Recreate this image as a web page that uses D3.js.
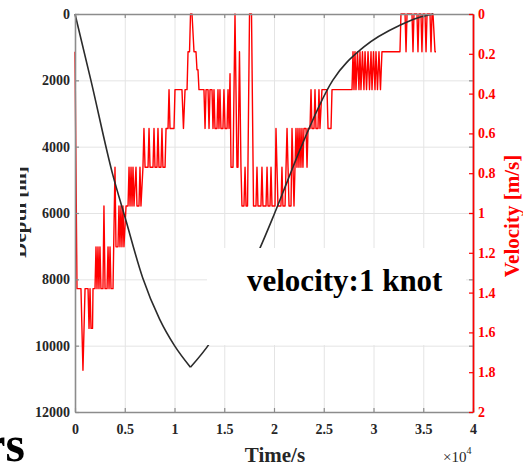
<!DOCTYPE html>
<html>
<head>
<meta charset="utf-8">
<script src="https://cdn.jsdelivr.net/npm/d3@7"></script>
<style>
  html, body { margin: 0; padding: 0; background: #fff; }
  svg { display: block; }
  text { font-family: "Liberation Serif", "Times New Roman", serif; }
</style>
</head>
<body>
<svg id="chart" width="523" height="466"></svg>
<script>
// ---------------- DATA ----------------
const timeTicks = [0, 0.5, 1, 1.5, 2, 2.5, 3, 3.5, 4];            // ×10^4 s
const timeTickLabels = ["0", "0.5", "1", "1.5", "2", "2.5", "3", "3.5", "4"];
const depthTicks = [0, 2000, 4000, 6000, 8000, 10000, 12000];
const velocityTicks = [0, 0.2, 0.4, 0.6, 0.8, 1, 1.2, 1.4, 1.6, 1.8, 2];
const velocityTickLabels = ["0", "0.2", "0.4", "0.6", "0.8", "1", "1.2", "1.4", "1.6", "1.8", "2"];

// depth profile (black): descent and ascent legs
const descentTime  = [0, 0.16, 0.38, 0.5, 0.68, 0.85, 1.0, 1.16];
const descentDepth = [0, 2000, 4850, 6100, 7950, 9200, 10000, 10650];
const ascentTime   = [1.16, 1.36, 1.6, 1.86, 1.98, 2.14, 2.26, 2.59, 2.9, 3.27, 3.45, 3.6];
const ascentDepth  = [10650, 9900, 8600, 7050, 6200, 5000, 4100, 2000, 1000, 330, 110, 0];

// velocity record (red): [time ×10^4 s, velocity m/s]
const velocitySamples = [
  [0,0.19],[0.020,1.38],[0.060,1.38],[0.080,1.79],[0.101,1.38],[0.131,1.38],[0.141,1.58],[0.151,1.38],
  [0.161,1.58],[0.176,1.58],[0.181,1.38],[0.201,1.38],[0.211,1.17],[0.221,1.38],[0.231,1.17],[0.241,1.38],
  [0.251,1.17],[0.261,1.38],[0.281,1.38],[0.291,0.965],[0.302,1.38],[0.322,1.38],[0.332,1.17],[0.342,1.38],
  [0.352,1.17],[0.362,1.38],[0.382,1.38],[0.402,0.77],[0.412,1.17],[0.432,1.17],[0.442,0.965],[0.452,1.17],
  [0.462,0.965],[0.472,1.17],[0.482,0.965],[0.492,1.17],[0.513,0.965],[0.533,0.965],[0.543,0.77],[0.553,0.965],
  [0.563,0.77],[0.573,0.965],[0.583,0.77],[0.593,0.965],[0.613,0.77],[0.623,0.965],[0.643,0.965],[0.653,0.77],
  [0.663,0.965],[0.683,0.77],[0.693,0.575],[0.704,0.77],[0.734,0.77],[0.744,0.575],[0.754,0.77],[0.784,0.77],
  [0.794,0.575],[0.804,0.77],[0.824,0.77],[0.834,0.575],[0.844,0.77],[0.864,0.77],[0.874,0.575],[0.884,0.77],
  [0.905,0.77],[0.915,0.575],[0.935,0.575],[0.945,0.38],[0.955,0.575],[0.995,0.575],[1.005,0.38],[1.075,0.38],
  [1.090,0.575],[1.106,0.38],[1.126,0.38],[1.136,0.19],[1.151,0.19],[1.161,0],[1.176,0],[1.196,0.19],
  [1.216,0.19],[1.226,0.28],[1.236,0.28],[1.246,0.38],[1.296,0.38],[1.307,0.575],[1.317,0.38],[1.337,0.38],
  [1.347,0.575],[1.357,0.38],[1.377,0.38],[1.387,0.575],[1.397,0.38],[1.407,0.575],[1.427,0.575],[1.437,0.38],
  [1.447,0.575],[1.457,0.38],[1.467,0.575],[1.487,0.575],[1.497,0.38],[1.508,0.575],[1.528,0.575],[1.538,0.38],
  [1.548,0.575],[1.558,0.30],[1.568,0.77],[1.588,0.77],[1.608,0],[1.628,0.77],[1.638,0.77],[1.653,0.19],
  [1.668,0.77],[1.678,0.965],[1.698,0.965],[1.709,0.77],[1.719,0.965],[1.734,0.965],[1.754,0],[1.774,0],
  [1.794,0.965],[1.819,0.965],[1.829,0.77],[1.839,0.965],[1.869,0.965],[1.879,0.77],[1.889,0.965],[1.920,0.965],
  [1.930,0.77],[1.940,0.965],[1.960,0.965],[1.970,0.77],[1.980,0.965],[2.010,0.965],[2.020,0.575],[2.030,0.77],
  [2.040,0.965],[2.070,0.965],[2.080,0.77],[2.090,0.965],[2.111,0.965],[2.121,0.77],[2.131,0.575],[2.141,0.77],
  [2.151,0.965],[2.171,0.965],[2.181,0.575],[2.191,0.77],[2.201,0.965],[2.221,0.575],[2.231,0.77],[2.241,0.575],
  [2.251,0.77],[2.261,0.575],[2.271,0.77],[2.281,0.575],[2.291,0.77],[2.301,0.575],[2.322,0.575],[2.332,0.77],
  [2.342,0.575],[2.362,0.575],[2.372,0.38],[2.382,0.575],[2.402,0.575],[2.412,0.38],[2.422,0.575],[2.442,0.575],
  [2.452,0.38],[2.462,0.575],[2.482,0.38],[2.533,0.38],[2.543,0.575],[2.573,0.575],[2.583,0.38],[2.784,0.38],
  [2.794,0.19],[2.804,0.38],[2.814,0.19],[2.824,0.38],[2.839,0.19],[2.854,0.38],[2.864,0.19],[2.874,0.38],
  [2.889,0.19],[2.904,0.38],[2.915,0.19],[2.930,0.38],[2.945,0.19],[2.960,0.38],[2.975,0.19],[2.985,0.38],
  [3.000,0.19],[3.015,0.38],[3.025,0.19],[3.040,0.38],[3.055,0.19],[3.070,0.38],[3.085,0.19],[3.266,0.19],
  [3.276,0],[3.317,0],[3.327,0.19],[3.337,0],[3.387,0],[3.397,0.19],[3.407,0],[3.437,0],
  [3.447,0.19],[3.457,0],[3.477,0],[3.487,0.19],[3.497,0],[3.518,0],[3.528,0.19],[3.538,0],
  [3.568,0],[3.578,0.19],[3.588,0],[3.598,0],[3.618,0.19],[3.628,0.19]
];

const annotationText = "velocity:1 knot";

// ---------------- LAYOUT ----------------
const svg = d3.select("#chart");
const L = 75, R = 473, T = 14, B = 412;

const x = d3.scaleLinear().domain([0, 4]).range([L, R]);
const yD = d3.scaleLinear().domain([0, 12000]).range([T, B]);
const yV = d3.scaleLinear().domain([0, 2]).range([T, B]);

const axisGray = "#8c8c8c";
const labelColor = "#262626";
const red = "#ff0000";

// gridlines
const gx = svg.append("g").attr("transform", `translate(0,${B})`)
  .call(d3.axisBottom(x).tickValues(timeTicks).tickSize(-(B - T)).tickFormat(""));
gx.select(".domain").remove();
gx.selectAll("line").attr("stroke", "#e4e4e4").attr("stroke-width", 1);

const gy = svg.append("g").attr("transform", `translate(${L},0)`)
  .call(d3.axisLeft(yD).tickValues(depthTicks).tickSize(-(R - L)).tickFormat(""));
gy.select(".domain").remove();
gy.selectAll("line").attr("stroke", "#e4e4e4").attr("stroke-width", 1);

// velocity line (red)
const velLine = d3.line().x(d => x(d[0])).y(d => yV(d[1]));
svg.append("path").datum(velocitySamples)
  .attr("d", velLine).attr("fill", "none")
  .attr("stroke", red).attr("stroke-width", 1.4).attr("stroke-linejoin", "round");

// depth line (black)
const depthLine = d3.line().x(d => x(d[0])).y(d => yD(d[1])).curve(d3.curveMonotoneX);
const descent = descentTime.map((t, i) => [t, descentDepth[i]]);
const ascent = ascentTime.map((t, i) => [t, ascentDepth[i]]);
[descent, ascent].forEach(seg => {
  svg.append("path").datum(seg).attr("d", depthLine)
    .attr("fill", "none").attr("stroke", "#2b2b2b").attr("stroke-width", 1.6);
});

// axes
function styleAxis(g, color, fill) {
  g.select(".domain").attr("stroke", color).attr("stroke-width", 1.6);
  g.selectAll(".tick line").attr("stroke", color).attr("stroke-width", 1.2);
  g.selectAll("text").attr("fill", fill || color)
    .style("font-family", '"Liberation Serif", serif')
    .style("font-weight", "bold").style("font-size", "14px");
}

const axBottom = svg.append("g").attr("transform", `translate(0,${B})`)
  .call(d3.axisBottom(x).tickValues(timeTicks).tickFormat((d, i) => timeTickLabels[i])
        .tickSizeInner(-4).tickSizeOuter(0).tickPadding(12));
styleAxis(axBottom, axisGray, labelColor);

const axTop = svg.append("g").attr("transform", `translate(0,${T})`)
  .call(d3.axisTop(x).tickValues(timeTicks).tickFormat("").tickSizeInner(-4).tickSizeOuter(0));
styleAxis(axTop, axisGray);

const axLeft = svg.append("g").attr("transform", `translate(${L},0)`)
  .call(d3.axisLeft(yD).tickValues(depthTicks).tickFormat(d3.format("d"))
        .tickSizeInner(-4).tickSizeOuter(0).tickPadding(5));
styleAxis(axLeft, axisGray, labelColor);

const axRightGray = svg.append("g").attr("transform", `translate(${R},0)`)
  .call(d3.axisRight(yD).tickValues(depthTicks).tickFormat("").tickSizeInner(-4).tickSizeOuter(0));
styleAxis(axRightGray, axisGray);

const axRight = svg.append("g").attr("transform", `translate(${R},0)`)
  .call(d3.axisRight(yV).tickValues(velocityTicks).tickFormat((d, i) => velocityTickLabels[i])
        .tickSizeInner(-4).tickSizeOuter(0).tickPadding(5));
styleAxis(axRight, red);

// white annotation box
svg.append("rect").attr("x", 207).attr("y", 248).attr("width", 259).attr("height", 97).attr("fill", "#fff");
svg.append("text").attr("x", 247).attr("y", 291)
  .style("font-size", "31px").style("font-weight", "bold").attr("fill", "#000")
  .text(annotationText);

// axis titles
svg.append("text").attr("x", 275).attr("y", 462).attr("text-anchor", "middle")
  .style("font-size", "21px").style("font-weight", "bold").attr("fill", labelColor).text("Time/s");

const expo = svg.append("text").attr("x", 443).attr("y", 462)
  .style("font-size", "15px").attr("fill", labelColor);
expo.append("tspan").text("×10");
expo.append("tspan").attr("dy", -8).style("font-size", "10px").text("4");

svg.append("text").attr("transform", "translate(519,216) rotate(-90)").attr("text-anchor", "middle")
  .style("font-size", "21px").style("font-weight", "bold").attr("fill", red).text("Velocity [m/s]");

svg.append("clipPath").attr("id", "cutLeft")
  .append("rect").attr("x", 20).attr("y", 0).attr("width", 40).attr("height", 466);
svg.append("g").attr("clip-path", "url(#cutLeft)")
  .append("text").attr("transform", "translate(26,212) rotate(-90)").attr("text-anchor", "middle")
  .style("font-size", "21px").style("font-weight", "bold").attr("fill", labelColor).text("Depth [m]");

// cropped neighbouring text at bottom-left
svg.append("text").attr("x", 25).attr("y", 461).attr("text-anchor", "end")
  .style("font-size", "50px").style("font-weight", "bold").attr("fill", "#000").text("rs");
</script>
</body>
</html>
